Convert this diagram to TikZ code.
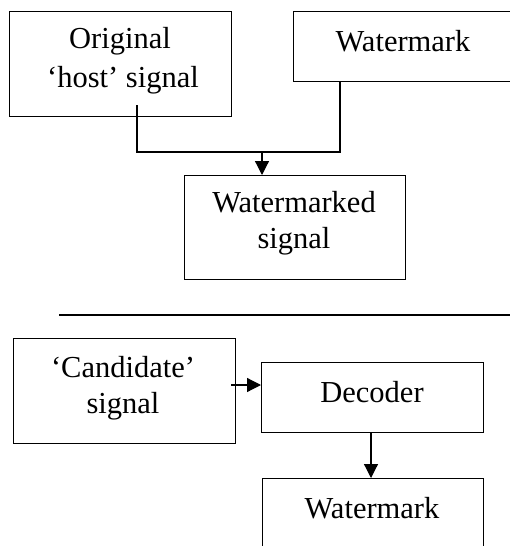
\documentclass[tikz,border=0pt]{standalone}
\usepackage{fontspec}
\setmainfont{Liberation Serif}
\usetikzlibrary{arrows.meta}
\begin{document}
\begin{tikzpicture}[x=1pt,y=-1pt,
  box/.style={draw,line width=1.2pt,inner sep=0pt,anchor=north west},
  txt/.style={anchor=base,inner sep=0pt,font=\fontsize{30.5}{36}\selectfont},
  conn/.style={line width=1.2pt},
  arr/.style={line width=1.2pt,-{Triangle[length=14pt,width=14pt]}}]
\useasboundingbox (0,0) rectangle (510,546);
% boxes
\node[box,minimum width=222pt,minimum height=105pt] (orig) at (9,11) {};
\node[box,minimum width=220pt,minimum height=70pt] (wm) at (293,11) {};
\node[box,minimum width=221pt,minimum height=104pt] (wmd) at (184,175) {};
\node[box,minimum width=222pt,minimum height=105pt] (cand) at (12.5,338) {};
\node[box,minimum width=222pt,minimum height=70pt] (dec) at (261,362) {};
\node[box,minimum width=221pt,minimum height=71pt] (wm2) at (262,478) {};
% texts
\node[txt] (t1a) at (120,48) {Original};
\node[txt] (t1b) at (123,87) {‘host’ signal};
\node[txt] (t2) at (403,51) {Watermark};
\node[txt] (t3a) at (294,212) {Watermarked};
\node[txt] (t3b) at (294,248) {signal};
\node[txt] (t4a) at (123,377) {‘Candidate’};
\node[txt] (t4b) at (123,413) {signal};
\node[txt] (t5) at (372,402) {Decoder};
\node[txt] (t6) at (372,518) {Watermark};
% connectors
\coordinate (s1) at (137,105);
\coordinate (j) at (262,152);
\draw[conn] (s1) |- (j) -| (wm.south -| 340,0);
\draw[arr] (j) -- (j |- wmd.north);
\coordinate (s2) at (231,385);
\draw[arr] (s2) -- (s2 -| dec.west);
\draw[arr] (dec.south -| 371,0) -- (wm2.north -| 371,0);
% separator
\coordinate (h1) at (59,315);
\coordinate (h2) at (511,315);
\draw[conn] (h1) -- (h2);
\end{tikzpicture}
\end{document}
